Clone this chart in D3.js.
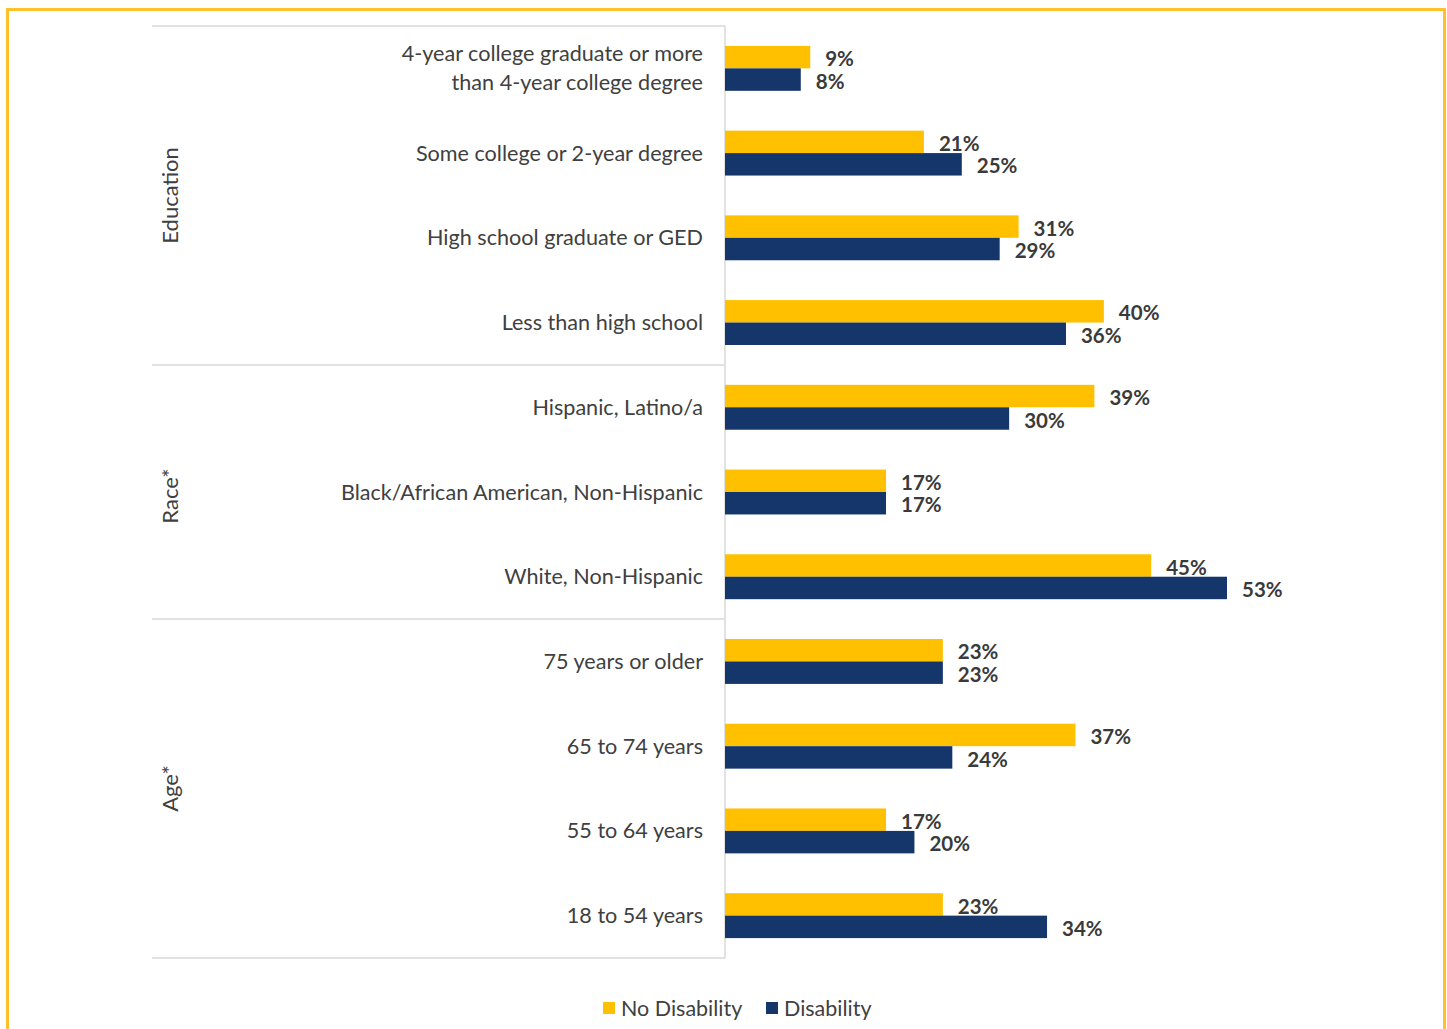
<!DOCTYPE html>
<html>
<head>
<meta charset="utf-8">
<script src="https://cdn.jsdelivr.net/npm/d3@7"></script>
<style>
  html, body { margin: 0; padding: 0; background: #fff; }
  svg { display: block; }
  text { font-family: Lato, "Open Sans", sans-serif; fill: #404040; }
</style>
</head>
<body>
<div id="chart"></div>
<script>
// --- data (top to bottom) ---
const categories = [
  "4-year college graduate or more|than 4-year college degree",
  "Some college or 2-year degree",
  "High school graduate or GED",
  "Less than high school",
  "Hispanic, Latino/a",
  "Black/African American, Non-Hispanic",
  "White, Non-Hispanic",
  "75 years or older",
  "65 to 74 years",
  "55 to 64 years",
  "18 to 54 years"
];
const noDisability = [9, 21, 31, 40, 39, 17, 45, 23, 37, 17, 23];
const disability   = [8, 25, 29, 36, 30, 17, 53, 23, 24, 20, 34];
const groups = [
  { name: "Education", from: 0, to: 3 },
  { name: "Race*", from: 4, to: 6 },
  { name: "Age*", from: 7, to: 10 }
];
const seriesNames = ["No Disability", "Disability"];
const seriesColors = ["#FFC000", "#14366B"];

const W = 1447, H = 1029;
const svg = d3.select("#chart").append("svg").attr("width", W).attr("height", H);

// outer frame (bottom edge falls outside the picture)
svg.append("path")
  .attr("d", `M7.5,${H + 5} L7.5,9.5 L1444.5,9.5 L1444.5,${H + 5}`)
  .attr("fill", "none")
  .attr("stroke", "#FFC02A")
  .attr("stroke-width", 3);

const x0 = 725, plotTop = 26, plotBottom = 958, leftEdge = 152;

const x = d3.scaleLinear().domain([0, 53]).range([x0, 1227]);
const y = d3.scaleBand().domain(d3.range(categories.length))
  .range([plotTop, plotBottom]).paddingInner(0.47).paddingOuter(0.235);
const sub = d3.scaleBand().domain([0, 1]).range([0, y.bandwidth()]);

// group separators
const grid = "#D9D9D9";
const lineYs = [plotTop].concat(groups.map((g, i) =>
  i === groups.length - 1 ? plotBottom : (y(g.to) + y.bandwidth() + y(g.to + 1)) / 2));
lineYs.forEach(v => {
  svg.append("line")
    .attr("x1", leftEdge).attr("x2", x0)
    .attr("y1", v).attr("y2", v)
    .attr("stroke", grid).attr("stroke-width", 1.5);
});
svg.append("line")
  .attr("x1", x0).attr("x2", x0)
  .attr("y1", plotTop).attr("y2", plotBottom)
  .attr("stroke", grid).attr("stroke-width", 1.5);

// group labels
groups.forEach((g, i) => {
  const cy = (lineYs[i] + lineYs[i + 1]) / 2 + (g.name === "Race*" ? 4 : 0);
  svg.append("text")
    .attr("transform", `translate(178,${cy}) rotate(-90)`)
    .attr("text-anchor", "middle")
    .style("font-size", "22px")
    .text(g.name);
});

// category labels
categories.forEach((c, i) => {
  const lines = c.split("|");
  const cy = y(i) + y.bandwidth() / 2;
  const t = svg.append("text")
    .attr("x", 703)
    .attr("text-anchor", "end")
    .style("font-size", "21.6px");
  lines.forEach((ln, k) => {
    t.append("tspan")
      .attr("x", 703)
      .attr("y", cy + (k - (lines.length - 1) / 2) * 29)
      .attr("dy", "0.35em")
      .text(ln);
  });
});

// bars + value labels
[noDisability, disability].forEach((vals, s) => {
  const g = svg.append("g");
  g.selectAll("rect")
    .data(vals)
    .join("rect")
      .attr("x", x(0))
      .attr("y", (d, i) => y(i) + sub(s))
      .attr("width", d => x(d) - x(0))
      .attr("height", sub.bandwidth())
      .attr("fill", seriesColors[s]);
  g.selectAll("text")
    .data(vals)
    .join("text")
      .attr("x", d => x(d) + 15)
      .attr("y", (d, i) => y(i) + sub(s) + sub.bandwidth() / 2 + 2)
      .attr("dy", "0.35em")
      .style("font-size", "20.5px")
      .style("font-weight", "bold")
      .style("fill", "#3a3a3a")
      .text(d => d + "%");
});

// legend
const legendX = [603, 766];
seriesNames.forEach((n, i) => {
  svg.append("rect")
    .attr("x", legendX[i]).attr("y", 1002)
    .attr("width", 12).attr("height", 12)
    .attr("fill", seriesColors[i]);
  svg.append("text")
    .attr("x", legendX[i] + 18).attr("y", 1008)
    .attr("dy", "0.35em")
    .style("font-size", "21.5px")
    .text(n);
});
</script>
</body>
</html>
